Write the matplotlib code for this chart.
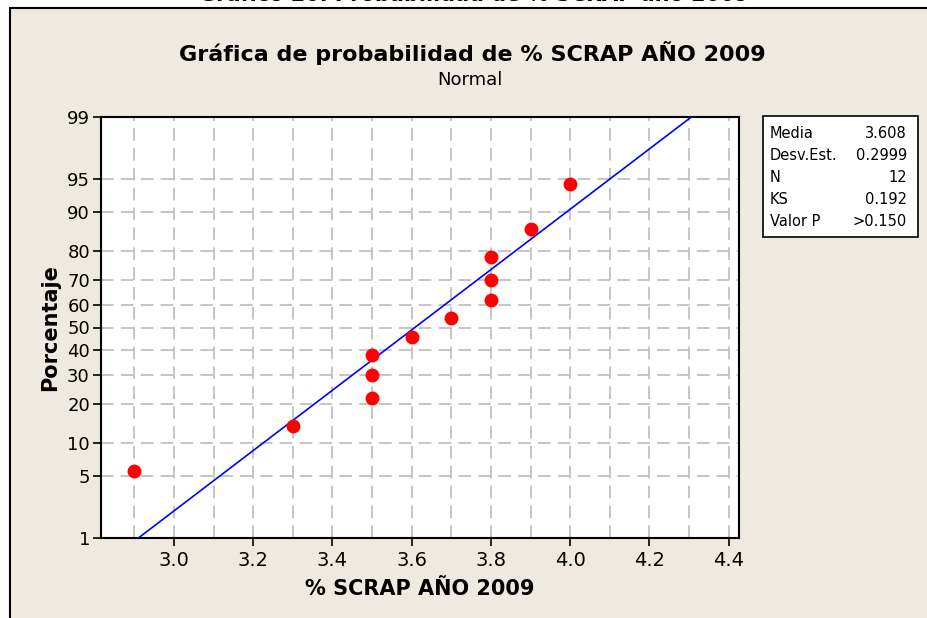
from statistics import NormalDist

import matplotlib
matplotlib.use("Agg")
import matplotlib.pyplot as plt
from matplotlib.patches import Rectangle
import numpy as np

plt.rcParams['font.family'] = ['DejaVu Sans']

# observed % scrap per month, 2009 (sorted) and their plotting percentages
scrap = [2.9, 3.3, 3.5, 3.5, 3.5, 3.6, 3.7, 3.8, 3.8, 3.8, 3.9, 4.0]
percent = [5.6, 13.7, 21.8, 29.8, 37.9, 46.0, 54.0, 62.1, 70.2, 78.2, 86.3, 94.4]

# summary table
media = 3.608
desv_est = 0.2999
n_obs = 12
ks = 0.192
valor_p = ">0.150"

y_ticks = [1, 5, 10, 20, 30, 40, 50, 60, 70, 80, 90, 95, 99]
x_major = [3.0, 3.2, 3.4, 3.6, 3.8, 4.0, 4.2, 4.4]
x_minor = [2.9, 3.1, 3.3, 3.5, 3.7, 3.9, 4.1, 4.3]

nd = NormalDist()
_inv = np.vectorize(lambda v: nd.inv_cdf(v / 100.0), otypes=[float])
_cdf = np.vectorize(lambda v: nd.cdf(v) * 100.0, otypes=[float])


def to_z(p):
    p = np.clip(np.asarray(p, dtype=float), 1e-9, 100 - 1e-9)
    return _inv(p)


def from_z(z):
    return _cdf(np.asarray(z, dtype=float))


fig = plt.figure(figsize=(9.27, 6.18), dpi=100, facecolor='white')

# beige panel with a black frame, running off the right and bottom edges
fig.patches.append(Rectangle((10 / 927, -0.1), 1.2, 1.1 - 8 / 618,
                             transform=fig.transFigure, facecolor='#eeeae0',
                             edgecolor='black', linewidth=1.5, zorder=-5))

# caption of the document, cut off by the top edge
fig.text(0.512, 1 - 1 / 618, "Gráfico 20. Probabilidad de % SCRAP año 2009",
         ha='center', va='baseline', fontsize=15, fontweight='bold')

fig.text(0.510, 0.914, "Gráfica de probabilidad de % SCRAP AÑO 2009",
         ha='center', va='center', fontsize=16, fontweight='bold')
fig.text(0.507, 0.871, "Normal", ha='center', va='center', fontsize=13)

ax = fig.add_axes([101 / 927, 1 - 538 / 618, 638 / 927, 421 / 618])
ax.set_facecolor('white')
ax.set_yscale('function', functions=(to_z, from_z))

# fitted normal line from the reported mean and standard deviation
p_line = np.linspace(1, 99, 99)
x_line = media + desv_est * to_z(p_line)
ax.plot(x_line, p_line, color='#0000ff', linewidth=1.2, zorder=3)

ax.plot(scrap, percent, 'o', color='#ff0000', markersize=10,
        markeredgewidth=0, zorder=4)

ax.set_xlim(2.816, 4.426)
ax.set_ylim(1, 99)
ax.set_xticks(x_major)
ax.set_xticklabels([f"{v:.1f}" for v in x_major])
ax.set_xticks(x_minor, minor=True)
ax.set_yticks(y_ticks)
ax.set_yticklabels([str(v) for v in y_ticks])
ax.yaxis.set_minor_locator(plt.NullLocator())

ax.grid(True, which='both', axis='x', color='#c0c0c0', linestyle=(0, (7, 4)),
        linewidth=1.3)
ax.grid(True, which='major', axis='y', color='#c0c0c0', linestyle=(0, (7, 4)),
        linewidth=1.3)
ax.set_axisbelow(True)

ax.tick_params(which='major', direction='out', length=6, width=1.2,
               labelsize=14, colors='black')
ax.tick_params(which='minor', length=0)
ax.tick_params(axis='y', labelsize=13, pad=2)
for s in ax.spines.values():
    s.set_linewidth(1.5)

ax.set_xlabel("% SCRAP AÑO 2009", fontsize=15, fontweight='bold', labelpad=6)
ax.set_ylabel("Porcentaje", fontsize=15, fontweight='bold', labelpad=5)

# summary box to the right of the plot
bx0, by0, bx1, by1 = 763 / 927, 1 - 237 / 618, 918 / 927, 1 - 116 / 618
fig.patches.append(Rectangle((bx0, by0), bx1 - bx0, by1 - by0,
                             transform=fig.transFigure, facecolor='white',
                             edgecolor='black', linewidth=1.2, zorder=2))
rows = [("Media", f"{media:.3f}"), ("Desv.Est.", f"{desv_est:.4f}"),
        ("N", str(n_obs)), ("KS", f"{ks:.3f}"), ("Valor P", valor_p)]
for i, (lab, val) in enumerate(rows):
    yy = 1 - (133 + 22 * i) / 618
    fig.text(770 / 927, yy, lab, ha='left', va='center', fontsize=10.5, zorder=3)
    fig.text(907 / 927, yy, val, ha='right', va='center', fontsize=10.5, zorder=3)

fig.savefig("out.png", dpi=100, facecolor=fig.get_facecolor())
